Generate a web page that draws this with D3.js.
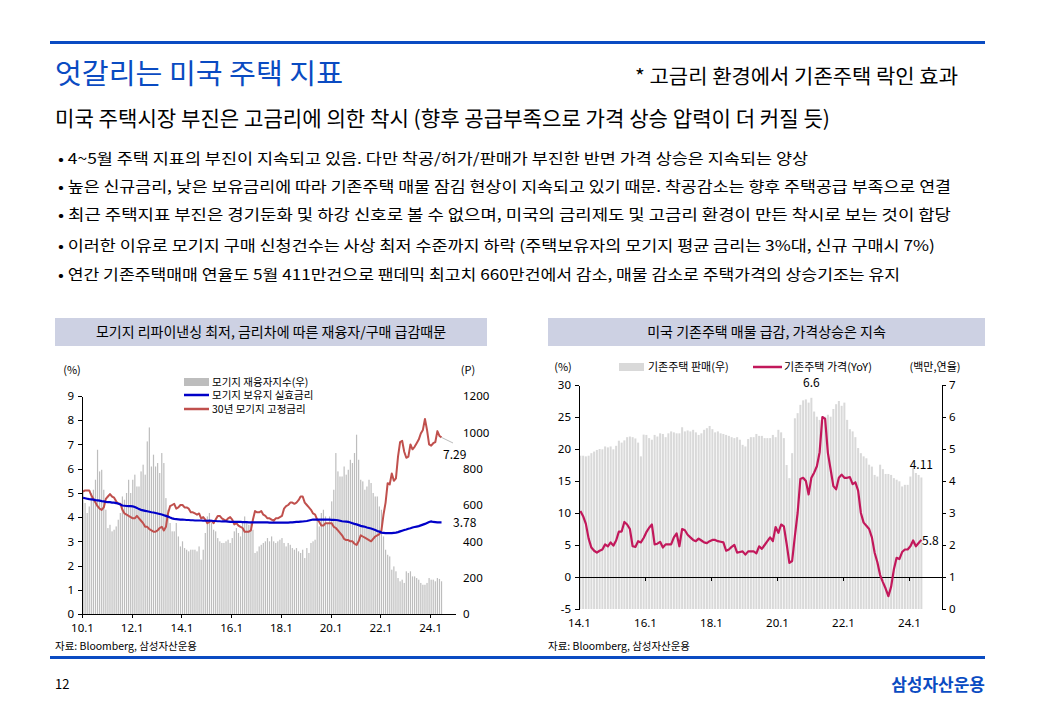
<!DOCTYPE html>
<html>
<head>
<meta charset="utf-8">
<script src="https://cdn.jsdelivr.net/npm/d3@7/dist/d3.min.js"></script>
<style>
  body { margin: 0; background: #fff; }
  svg text { font-family: 'Noto Sans CJK KR', 'Noto Sans', sans-serif; }
  .axis path, .axis line { stroke: #000; shape-rendering: crispEdges; }
  svg .axis text { font-family: 'Noto Sans', sans-serif; font-size: 11.5px; fill: #000; }
</style>
</head>
<body>
<div id="page"></div>
<script>
// ---- data ----
var bulletLines = [
  '• 4~5월 주택 지표의 부진이 지속되고 있음. 다만 착공/허가/판매가  부진한 반면 가격 상승은 지속되는 양상',
  '• 높은 신규금리, 낮은 보유금리에 따라 기존주택 매물 잠김 현상이 지속되고 있기 때문. 착공감소는 향후 주택공급 부족으로 연결',
  '• 최근 주택지표 부진은 경기둔화 및 하강 신호로 볼 수 없으며, 미국의 금리제도 및 고금리 환경이 만든 착시로 보는 것이 합당',
  '• 이러한 이유로 모기지 구매 신청건수는 사상 최저 수준까지 하락 (주택보유자의 모기지 평균 금리는 3%대, 신규 구매시 7%)',
  '• 연간 기존주택매매 연율도 5월 411만건으로 팬데믹 최고치 660만건에서 감소, 매물 감소로 주택가격의 상승기조는 유지'
]
var bulletWidths = [750, 893, 893, 877, 842]

// left chart: monthly 2010.1 - 2024.6
var leftTickLabels = ['10.1', '12.1', '14.1', '16.1', '18.1', '20.1', '22.1', '24.1']
var refiIndex = [
  684, 611, 556, 592, 666, 684, 739, 904, 785, 794, 684, 574,
  473, 491, 455, 464, 482, 519, 556, 647, 629, 666, 739, 666,
  739, 767, 702, 702, 785, 822, 767, 950, 1027, 812, 877, 812,
  831, 776, 886, 831, 638, 574, 501, 455, 455, 501, 427, 372,
  400, 363, 354, 345, 354, 354, 354, 345, 372, 299, 354, 446,
  537, 556, 501, 464, 455, 418, 400, 391, 391, 400, 409, 391,
  418, 455, 473, 446, 427, 501, 537, 501, 491, 501, 464, 336,
  345, 372, 381, 391, 400, 418, 400, 427, 400, 391, 400, 409,
  418, 391, 372, 391, 381, 363, 354, 363, 345, 336, 354, 308,
  363, 336, 391, 400, 409, 519, 482, 556, 574, 537, 501, 537,
  620, 684, 886, 785, 757, 757, 812, 767, 794, 849, 831, 886,
  987, 849, 739, 730, 684, 702, 739, 721, 666, 647, 647, 592,
  574, 427, 354, 326, 317, 244, 262, 235, 198, 180, 189, 171,
  235, 226, 235, 207, 207, 198, 189, 171, 161, 161, 171, 198,
  189, 189, 180, 198, 193, 180
]
var effectiveRate = [
  4.80, 4.78, 4.76, 4.74, 4.73, 4.72, 4.70, 4.69, 4.68, 4.66, 4.65, 4.63,
  4.62, 4.62, 4.60, 4.60, 4.58, 4.56, 4.52, 4.48, 4.47, 4.46, 4.45, 4.45,
  4.44, 4.42, 4.38, 4.33, 4.30, 4.28, 4.26, 4.24, 4.22, 4.20, 4.19, 4.17,
  4.15, 4.13, 4.11, 4.08, 4.05, 4.02, 3.98, 3.95, 3.93, 3.92, 3.91, 3.90,
  3.90, 3.89, 3.88, 3.88, 3.87, 3.87, 3.86, 3.86, 3.86, 3.86, 3.85, 3.85,
  3.85, 3.86, 3.85, 3.84, 3.84, 3.83, 3.83, 3.82, 3.82, 3.82, 3.81, 3.80,
  3.80, 3.80, 3.80, 3.80, 3.80, 3.79, 3.79, 3.79, 3.78, 3.78, 3.78, 3.78,
  3.78, 3.78, 3.78, 3.78, 3.78, 3.78, 3.77, 3.77, 3.77, 3.77, 3.77, 3.77,
  3.77, 3.77, 3.77, 3.77, 3.78, 3.78, 3.79, 3.80, 3.80, 3.81, 3.82, 3.83,
  3.84, 3.86, 3.88, 3.90, 3.90, 3.90, 3.90, 3.90, 3.90, 3.90, 3.90, 3.90,
  3.89, 3.89, 3.88, 3.87, 3.85, 3.83, 3.82, 3.81, 3.80, 3.78, 3.75, 3.72,
  3.70, 3.67, 3.64, 3.62, 3.60, 3.57, 3.55, 3.53, 3.50, 3.47, 3.43, 3.40,
  3.36, 3.35, 3.34, 3.34, 3.34, 3.34, 3.35, 3.36, 3.38, 3.41, 3.44, 3.47,
  3.49, 3.52, 3.54, 3.57, 3.59, 3.61, 3.63, 3.66, 3.69, 3.72, 3.76, 3.80,
  3.82, 3.80, 3.79, 3.78, 3.78, 3.78
]
var fixed30Rate = [
  5.05, 5.10, 5.10, 5.10, 4.90, 4.75, 4.60, 4.45, 4.35, 4.30, 4.40, 4.75,
  4.85, 4.95, 4.85, 4.80, 4.65, 4.55, 4.55, 4.30, 4.15, 4.10, 4.05, 4.00,
  3.95, 3.95, 4.05, 3.95, 3.85, 3.75, 3.60, 3.60, 3.50, 3.45, 3.40, 3.40,
  3.45, 3.55, 3.60, 3.45, 3.60, 4.15, 4.45, 4.50, 4.55, 4.35, 4.40, 4.50,
  4.50, 4.40, 4.40, 4.35, 4.20, 4.20, 4.15, 4.10, 4.15, 3.95, 4.00, 3.90,
  3.75, 3.80, 3.85, 3.75, 3.90, 4.05, 4.05, 3.95, 3.90, 3.85, 3.95, 4.00,
  3.90, 3.70, 3.75, 3.65, 3.60, 3.55, 3.40, 3.40, 3.40, 3.45, 3.90, 4.25,
  4.20, 4.20, 4.25, 4.10, 4.05, 3.95, 3.95, 3.90, 3.85, 3.95, 3.95, 4.00,
  4.05, 4.35, 4.45, 4.50, 4.60, 4.60, 4.55, 4.60, 4.70, 4.85, 4.85, 4.60,
  4.50, 4.40, 4.30, 4.15, 4.10, 3.90, 3.80, 3.65, 3.65, 3.75, 3.75, 3.75,
  3.75, 3.60, 3.55, 3.45, 3.35, 3.25, 3.10, 3.05, 3.05, 3.00, 3.00, 2.90,
  2.85, 3.00, 3.25, 3.20, 3.15, 3.10, 3.05, 3.00, 3.10, 3.20, 3.25, 3.30,
  3.45, 4.10, 4.60, 5.40, 5.35, 5.80, 5.50, 5.60, 6.50, 7.10, 7.15, 6.70,
  6.45, 6.50, 7.00, 6.80, 6.90, 7.05, 7.20, 7.45, 7.60, 8.05, 7.60, 7.00,
  6.95, 7.05, 7.10, 7.55, 7.35, 7.29
]

// right chart: monthly 2014.1 - 2024.5
var rightTickLabels = ['14.1', '16.1', '18.1', '20.1', '22.1', '24.1']
var existingSales = [
  4.79, 4.79, 4.77, 4.79, 4.87, 4.92, 4.97, 5.00, 4.99, 5.08, 5.05, 5.08,
  4.99, 5.10, 5.26, 5.20, 5.27, 5.37, 5.39, 5.37, 5.33, 5.20, 4.77, 5.45,
  5.44, 5.34, 5.29, 5.44, 5.39, 5.49, 5.47, 5.37, 5.49, 5.55, 5.52, 5.49,
  5.49, 5.68, 5.55, 5.58, 5.55, 5.60, 5.52, 5.44, 5.49, 5.60, 5.65, 5.72,
  5.62, 5.52, 5.55, 5.49, 5.47, 5.44, 5.41, 5.37, 5.34, 5.37, 5.29, 5.13,
  5.08, 5.31, 5.37, 5.37, 5.47, 5.41, 5.41, 5.34, 5.34, 5.34, 5.44, 5.37,
  5.60, 5.52, 5.34, 4.50, 4.09, 4.87, 5.96, 6.12, 6.38, 6.52, 6.55, 6.45,
  6.60, 6.17, 6.01, 5.91, 5.86, 6.01, 6.07, 6.01, 6.25, 6.40, 6.50, 6.35,
  6.45, 5.91, 5.62, 5.55, 5.37, 5.03, 4.87, 4.77, 4.71, 4.51, 4.45, 4.19,
  4.14, 4.51, 4.37, 4.22, 4.22, 4.19, 4.09, 4.04, 3.99, 3.83, 3.88, 3.88,
  4.14, 4.40, 4.25, 4.19, 4.11
]
var existingPriceYoY = [
  10.3, 9.5, 8.3, 6.0, 4.6, 4.1, 3.8, 4.1, 4.3, 5.1, 4.8, 5.4,
  4.9, 5.7, 7.1, 7.1, 8.6, 8.2, 7.5, 4.8, 4.7, 5.6, 5.4, 6.1,
  7.0, 7.7, 8.2, 5.1, 5.2, 5.5, 4.6, 5.1, 5.1, 5.1, 6.2, 6.8,
  4.8, 7.5, 7.3, 6.6, 6.2, 5.8, 5.6, 6.0, 5.7, 5.4, 5.3, 5.6,
  5.8, 5.8, 5.6, 5.5, 5.4, 4.1, 4.3, 4.7, 5.0, 3.8, 3.9, 4.0,
  3.5, 4.0, 4.0, 4.0, 3.7, 4.8, 4.4, 5.0, 5.6, 6.2, 5.6, 7.8,
  6.9, 8.2, 7.9, 5.2, 2.2, 2.5, 6.4, 10.0, 15.3, 15.5, 15.0, 12.9,
  15.5, 16.3, 17.3, 19.5, 25.0, 24.7, 19.4, 16.8, 14.2, 13.7, 15.5, 16.0,
  15.5, 15.5, 15.6, 14.5, 14.8, 13.5, 10.0, 8.5, 8.0, 7.5, 6.2, 3.8,
  2.3, 0.3, -0.8, -1.8, -3.0, -1.5, 1.2, 3.0, 2.8, 3.9, 4.3, 4.3,
  4.8, 5.7, 4.8, 5.3, 5.8
]

var blue = '#0a4bc2'
var plain = function(d) { return String(d) }
var svg = d3.select('#page').append('svg').attr('width', 1040).attr('height', 720)
svg.append('rect').attr('width', 1040).attr('height', 720).attr('fill', '#fff')

// ---- header ----
svg.append('rect').attr('x', 50).attr('y', 41).attr('width', 935).attr('height', 3).attr('fill', blue)
svg.append('text').attr('x', 55).attr('y', 84).attr('font-size', 28).attr('fill', blue)
  .attr('textLength', 288).attr('lengthAdjust', 'spacingAndGlyphs')
  .text('엇갈리는 미국 주택 지표')
svg.append('text').attr('x', 635).attr('y', 84).attr('font-size', 20).attr('fill', '#000')
  .attr('textLength', 323).attr('lengthAdjust', 'spacingAndGlyphs')
  .text('* 고금리 환경에서 기존주택 락인 효과')
svg.append('text').attr('x', 55).attr('y', 126).attr('font-size', 21).attr('fill', '#000')
  .attr('textLength', 775).attr('lengthAdjust', 'spacingAndGlyphs')
  .text('미국 주택시장 부진은 고금리에 의한 착시 (향후 공급부족으로 가격 상승 압력이 더 커질 듯)')

svg.selectAll('.bullet').data(bulletLines).enter().append('text')
  .attr('class', 'bullet')
  .attr('x', 58)
  .attr('y', function(d, i) { return [164, 192, 220, 251, 280][i] })
  .attr('font-size', 15)
  .attr('textLength', function(d, i) { return bulletWidths[i] })
  .attr('lengthAdjust', 'spacingAndGlyphs')
  .text(function(d) { return d })

// chart title boxes
function titleBox(x, w, label) {
  svg.append('rect').attr('x', x).attr('y', 318).attr('width', w).attr('height', 28).attr('fill', '#cdd1e3')
  svg.append('text').attr('x', x + w / 2).attr('y', 337).attr('text-anchor', 'middle')
    .attr('font-size', 14).text(label)
}
titleBox(55, 432, '모기지 리파이낸싱 최저, 금리차에 따른 재융자/구매 급감때문')
titleBox(548, 437, '미국 기존주택 매물 급감, 가격상승은 지속')

// ---- left chart ----
var xL = d3.scaleLinear().domain([0, 180]).range([82, 455])
var yL = d3.scaleLinear().domain([0, 9]).range([614, 396])
var yLR = d3.scaleLinear().domain([0, 1200]).range([614, 396])

svg.append('g').selectAll('rect').data(refiIndex).enter().append('rect')
  .attr('x', function(d, i) { return xL(i + 0.5) - 0.6 })
  .attr('y', function(d) { return yLR(d) })
  .attr('width', 1.2)
  .attr('height', function(d) { return yLR(0) - yLR(d) })
  .attr('fill', '#bdbdbd')

var lineL = function(values) {
  return d3.line()
    .x(function(d, i) { return xL(i + 0.5) })
    .y(function(d) { return yL(d) })(values)
}
svg.append('path').attr('d', lineL(fixed30Rate)).attr('fill', 'none')
  .attr('stroke', '#c0504d').attr('stroke-width', 2).attr('stroke-linejoin', 'round')
svg.append('path').attr('d', lineL(effectiveRate)).attr('fill', 'none')
  .attr('stroke', '#0000c8').attr('stroke-width', 2.2)

svg.append('g').attr('class', 'axis').attr('transform', 'translate(82,0)')
  .call(d3.axisLeft(yL).ticks(9).tickSize(4).tickPadding(4).tickSizeOuter(0).tickFormat(plain))
svg.append('g').attr('class', 'axis').attr('transform', 'translate(0,614)')
  .call(d3.axisBottom(xL).tickValues(d3.range(0, 169, 24)).tickSize(4).tickPadding(6).tickSizeOuter(0)
    .tickFormat(function(d, i) { return leftTickLabels[i] }))
var rightAxisL = svg.append('g').attr('class', 'axis').attr('transform', 'translate(463,0)')
  .call(d3.axisRight(yLR).tickValues(d3.range(0, 1201, 200)).tickSize(0).tickPadding(0).tickFormat(plain))
rightAxisL.select('.domain').remove()

svg.append('text').attr('x', 72).attr('y', 374).attr('text-anchor', 'middle').attr('font-size', 11).text('(%)')
svg.append('text').attr('x', 468).attr('y', 374).attr('text-anchor', 'middle').attr('font-size', 11).text('(P)')

var legL = svg.append('g').attr('font-size', 10.5)
legL.append('rect').attr('x', 184).attr('y', 378).attr('width', 25).attr('height', 8).attr('fill', '#bdbdbd')
legL.append('line').attr('x1', 184).attr('x2', 209).attr('y1', 395).attr('y2', 395).attr('stroke', '#0000c8').attr('stroke-width', 2.5)
legL.append('line').attr('x1', 184).attr('x2', 209).attr('y1', 409).attr('y2', 409).attr('stroke', '#c0504d').attr('stroke-width', 2.5)
legL.append('text').attr('x', 212).attr('y', 386).text('모기지 재융자지수(우)')
legL.append('text').attr('x', 212).attr('y', 399).text('모기지 보유지 실효금리')
legL.append('text').attr('x', 212).attr('y', 413).text('30년 모기지 고정금리')

var lastL = fixed30Rate.length - 1
svg.append('line').attr('x1', xL(lastL + 0.5)).attr('y1', yL(fixed30Rate[lastL]))
  .attr('x2', 453).attr('y2', 443).attr('stroke', '#aaa').attr('stroke-width', 0.8)
svg.append('text').attr('x', 443).attr('y', 459).attr('font-size', 12).text(fixed30Rate[lastL].toFixed(2))
svg.append('text').attr('x', 453).attr('y', 527).attr('font-size', 12).text(effectiveRate[lastL].toFixed(2))

// ---- right chart ----
var xR = d3.scaleLinear().domain([0, 132]).range([579, 942])
var yR = d3.scaleLinear().domain([-5, 30]).range([609, 385])
var yRR = d3.scaleLinear().domain([0, 7]).range([609, 385])

svg.append('g').selectAll('rect').data(existingSales).enter().append('rect')
  .attr('x', function(d, i) { return xR(i + 0.5) - 1 })
  .attr('y', function(d) { return yRR(d) })
  .attr('width', 2)
  .attr('height', function(d) { return yRR(0) - yRR(d) })
  .attr('fill', '#d9d9d9')

svg.append('g').attr('class', 'axis').attr('transform', 'translate(0,' + yR(0) + ')')
  .call(d3.axisBottom(xR).tickValues(d3.range(0, 121, 24)).tickSize(4).tickSizeOuter(0)
    .tickFormat(''))
svg.append('g').attr('class', 'axis').attr('transform', 'translate(0,609)')
  .call(d3.axisBottom(xR).tickValues(d3.range(0, 121, 24)).tickSize(0).tickPadding(10)
    .tickFormat(function(d, i) { return rightTickLabels[i] }))
  .select('.domain').remove()

svg.append('path')
  .attr('d', d3.line()
    .x(function(d, i) { return xR(i + 0.5) })
    .y(function(d) { return yR(d) })(existingPriceYoY))
  .attr('fill', 'none').attr('stroke', '#c2185b').attr('stroke-width', 2.2).attr('stroke-linejoin', 'round')

svg.append('g').attr('class', 'axis').attr('transform', 'translate(579,0)')
  .call(d3.axisLeft(yR).tickValues(d3.range(-5, 31, 5)).tickSize(4).tickPadding(4).tickSizeOuter(0).tickFormat(plain))
svg.append('g').attr('class', 'axis').attr('transform', 'translate(942,0)')
  .call(d3.axisRight(yRR).ticks(7).tickSize(4).tickPadding(3).tickSizeOuter(0).tickFormat(plain))

svg.append('text').attr('x', 563).attr('y', 371).attr('text-anchor', 'middle').attr('font-size', 11).text('(%)')
svg.append('text').attr('x', 935).attr('y', 371).attr('text-anchor', 'middle').attr('font-size', 11).text('(백만,연율)')

var legR = svg.append('g').attr('font-size', 11)
legR.append('rect').attr('x', 619).attr('y', 363).attr('width', 25).attr('height', 8).attr('fill', '#d9d9d9')
legR.append('text').attr('x', 648).attr('y', 371).text('기존주택 판매(우)')
legR.append('line').attr('x1', 753).attr('x2', 782).attr('y1', 367).attr('y2', 367).attr('stroke', '#c2185b').attr('stroke-width', 2.5)
legR.append('text').attr('x', 784).attr('y', 371).text('기존주택 가격(YoY)')

var peakIdx = d3.maxIndex(existingSales)
var lastR = existingSales.length - 1
svg.append('text').attr('x', xR(peakIdx + 0.5)).attr('y', 387).attr('text-anchor', 'middle').attr('font-size', 12)
  .text(existingSales[peakIdx].toFixed(1))
svg.append('text').attr('x', xR(lastR + 0.5)).attr('y', 469).attr('text-anchor', 'middle').attr('font-size', 12)
  .text(existingSales[lastR].toFixed(2))
svg.append('text').attr('x', 922).attr('y', 545).attr('font-size', 12)
  .text(existingPriceYoY[lastR].toFixed(1))

// ---- sources & footer ----
svg.append('text').attr('x', 55).attr('y', 650).attr('font-size', 10.5)
  .attr('textLength', 142).attr('lengthAdjust', 'spacingAndGlyphs').text('자료: Bloomberg, 삼성자산운용')
svg.append('text').attr('x', 548).attr('y', 650).attr('font-size', 10.5)
  .attr('textLength', 142).attr('lengthAdjust', 'spacingAndGlyphs').text('자료: Bloomberg, 삼성자산운용')
svg.append('rect').attr('x', 50).attr('y', 656).attr('width', 935).attr('height', 3).attr('fill', blue)
svg.append('text').attr('x', 55).attr('y', 689).attr('font-size', 13).text('12')
svg.append('text').attr('x', 985).attr('y', 691).attr('text-anchor', 'end').attr('font-size', 17)
  .attr('font-weight', 'bold').attr('fill', blue).text('삼성자산운용')
</script>
</body>
</html>
